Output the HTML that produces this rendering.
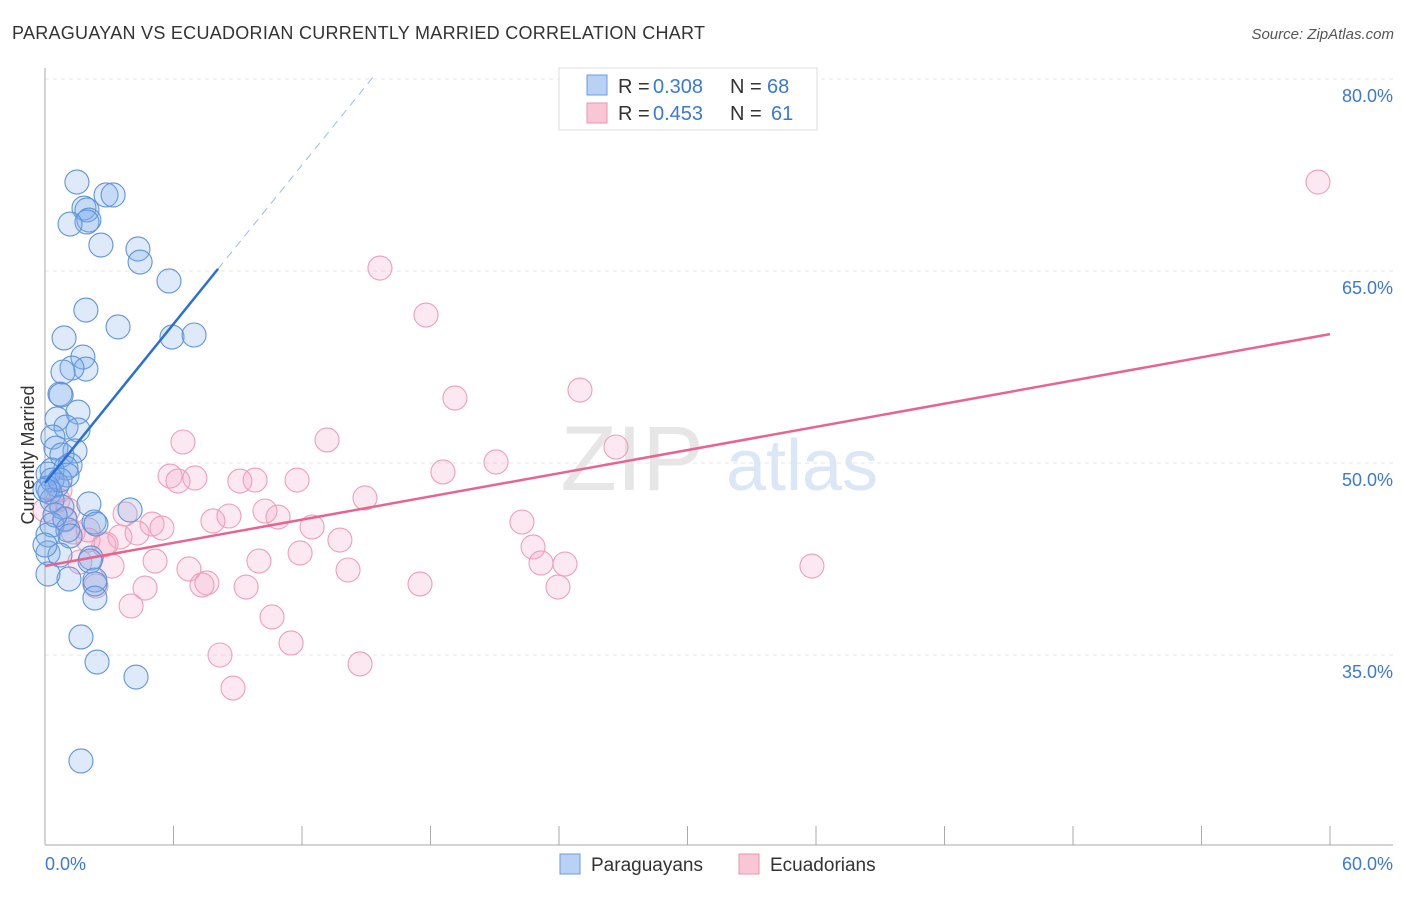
<!DOCTYPE html>
<html><head><meta charset="utf-8">
<style>
body{margin:0;background:#fff;font-family:"Liberation Sans",sans-serif;}
svg text{font-family:"Liberation Sans",sans-serif;}
</style></head>
<body>
<svg id="chart" width="1406" height="892" xmlns="http://www.w3.org/2000/svg">
<text x="12" y="39" font-size="18" fill="#333" textLength="693">PARAGUAYAN VS ECUADORIAN CURRENTLY MARRIED CORRELATION CHART</text>
<text x="1394" y="39" font-size="15" fill="#555" font-style="italic" text-anchor="end">Source: ZipAtlas.com</text>
<g>
<text x="632" y="490" font-size="92" fill="#e6e6e6" font-family="Liberation Serif" text-anchor="middle">ZIP</text>
<text x="802" y="490" font-size="72" fill="#dbe6f6" text-anchor="middle">atlas</text>
</g>
<g id="grid"></g>
<g id="axes"></g>
<g id="pts"></g>
<g id="trends"></g>
<text transform="translate(34,455) rotate(-90)" font-size="18" fill="#333" text-anchor="middle">Currently Married</text>
<g>
<rect x="559" y="68" width="258" height="62" fill="#fff" stroke="#ddd"/>
<rect x="587" y="75" width="20" height="20" fill="#b9d1f4" stroke="#6a9be0"/>
<rect x="587" y="103" width="20" height="20" fill="#f9c6d5" stroke="#eb94b0"/>
<text x="618" y="93" font-size="20" fill="#333">R =</text>
<text x="653" y="93" font-size="20" fill="#3b78d8">0.308</text>
<text x="730" y="93" font-size="20" fill="#333">N =</text>
<text x="767" y="93" font-size="20" fill="#3b78d8">68</text>
<text x="618" y="120" font-size="20" fill="#333">R =</text>
<text x="653" y="120" font-size="20" fill="#3b78d8">0.453</text>
<text x="730" y="120" font-size="20" fill="#333">N =</text>
<text x="771" y="120" font-size="20" fill="#3b78d8">61</text>
</g>
<g>
<rect x="560" y="854" width="20" height="20" fill="#b9d1f4" stroke="#6a9be0"/>
<text x="591" y="871" font-size="19" fill="#333">Paraguayans</text>
<rect x="739" y="854" width="20" height="20" fill="#f9c6d5" stroke="#eb94b0"/>
<text x="770" y="871" font-size="19" fill="#333">Ecuadorians</text>
</g>
</svg>
<script>
const yTicks=[80,65,50,35];
const yTickLabels=["80.0%","65.0%","50.0%","35.0%"];
const xTickLabels=["0.0%","60.0%"];
const blueX=[1.49,2.85,3.18,1.82,1.96,2.05,1.96,1.17,2.61,4.34,4.44,5.79,1.91,3.41,5.93,6.96,0.89,1.77,1.91,1.26,0.84,0.70,0.75,1.54,0.56,0.98,1.54,0.37,0.51,1.40,0.79,1.17,0.98,0.33,0.14,1.03,0.33,0.56,0.14,0.23,2.05,0.79,0.93,2.29,2.38,0.33,1.07,3.97,1.17,0.14,0.70,2.15,2.10,2.33,2.33,1.12,2.33,0.14,1.68,2.43,4.25,1.68,0.14,0.33,0.47,0.0,0.70,0.0];
const blueY=[71.95,70.94,70.94,69.92,69.77,68.98,68.83,68.67,67.03,66.72,65.70,64.22,61.95,60.63,59.84,60.00,59.77,58.28,57.34,57.42,57.11,55.39,55.31,53.98,53.44,52.81,52.58,52.03,51.17,50.94,50.63,49.84,49.61,49.45,49.14,49.06,48.67,48.28,48.05,47.73,46.80,46.56,45.63,45.39,45.23,45.16,44.77,46.33,44.30,42.97,42.81,42.58,42.34,40.86,40.55,40.94,39.45,41.33,36.41,34.45,33.28,26.72,44.38,47.11,45.94,43.59,48.67,47.89];
const pinkX=[59.44,15.64,17.79,24.98,19.14,13.17,6.44,26.66,21.06,18.58,5.84,7.00,6.21,9.10,9.81,11.77,14.94,1.07,22.27,3.74,5.00,5.46,7.84,8.59,10.27,10.88,12.47,13.77,2.75,3.50,2.01,1.31,0.61,0.70,0.93,2.85,4.30,2.01,22.79,11.91,23.16,24.28,9.99,5.14,3.13,6.72,14.15,1.63,35.81,7.56,7.33,9.39,17.51,23.95,4.67,2.38,4.02,10.60,11.49,8.17,14.71,8.78,0];
const pinkY=[71.95,65.23,61.56,55.70,55.08,51.80,51.64,51.25,50.08,49.30,48.98,48.83,48.59,48.59,48.67,48.67,47.27,46.33,45.39,46.02,45.23,44.92,45.47,45.86,46.25,45.78,45.00,43.98,43.59,44.22,43.98,44.61,47.11,47.89,45.55,43.67,44.53,44.77,43.44,42.97,42.19,42.11,42.34,42.34,41.95,41.72,41.64,42.27,41.95,40.63,40.47,40.31,40.55,40.31,40.23,40.39,38.83,37.97,35.94,35.00,34.30,32.42,46.33];
const blueTrend=[48.44,2.07];
const pinkTrend=[41.95,0.302];
const NS="http://www.w3.org/2000/svg";
const X=v=>45+v*1285/60;
const Y=v=>463-(v-50)*12.8;
function mk(tag,attrs,parent){const e=document.createElementNS(NS,tag);for(const k in attrs)e.setAttribute(k,attrs[k]);parent.appendChild(e);return e;}
const grid=document.getElementById('grid'),axes=document.getElementById('axes'),pts=document.getElementById('pts'),tr=document.getElementById('trends');
yTicks.forEach((t,i)=>{
 const l=mk('line',{x1:45,x2:1393,y1:Y(t),y2:Y(t),stroke:'#e6e6e6','stroke-width':1,'stroke-dasharray':'4,4'},grid);
 
 
 const tx=mk('text',{x:1393,y:Y(t)+23,'font-size':18,fill:'#3b78d8','text-anchor':'end'},grid);
 tx.textContent=yTickLabels[i];
 
 
});
mk('line',{x1:45,x2:45,y1:68,y2:845,stroke:'#aaa'},axes);
mk('line',{x1:45,x2:1393,y1:845,y2:845,stroke:'#aaa'},axes);
for(let i=0;i<=10;i++){
 const t=mk('line',{x1:X(i*6),x2:X(i*6),y1:845,y2:826,stroke:'#aaa'},axes);
 
 
}
const xl0=mk('text',{x:45,y:870,'font-size':18,fill:'#3b78d8'},axes);xl0.textContent=xTickLabels[0];


const xl1=mk('text',{x:1393,y:870,'font-size':18,fill:'#3b78d8','text-anchor':'end'},axes);xl1.textContent=xTickLabels[1];


pinkX.forEach((x,i)=>{
 const c=mk('circle',{cx:X(x),cy:Y(pinkY[i]),r:12,fill:'rgba(245,165,195,0.25)',stroke:'#ee9fb8','stroke-width':1.1},pts);
 
 
});
blueX.forEach((x,i)=>{
 const c=mk('circle',{cx:X(x),cy:Y(blueY[i]),r:12,fill:'rgba(125,170,235,0.25)',stroke:'#5f94dc','stroke-width':1.1},pts);
 
 
});
const bEnd=8.08,bDash=15.4;
const b1=mk('line',{x1:X(0),y1:Y(blueTrend[0]),x2:X(bEnd),y2:Y(blueTrend[0]+blueTrend[1]*bEnd),stroke:'#2a6fd6','stroke-width':2.5},tr);


const b2=mk('line',{x1:X(bEnd),y1:Y(blueTrend[0]+blueTrend[1]*bEnd),x2:X(bDash),y2:Y(blueTrend[0]+blueTrend[1]*bDash),stroke:'#9cbcea','stroke-width':1,'stroke-dasharray':'8,6'},tr);


const p1=mk('line',{x1:X(0),y1:Y(pinkTrend[0]),x2:X(60),y2:Y(pinkTrend[0]+pinkTrend[1]*60),stroke:'#e8648f','stroke-width':2.5},tr);


</script>
</body></html>
